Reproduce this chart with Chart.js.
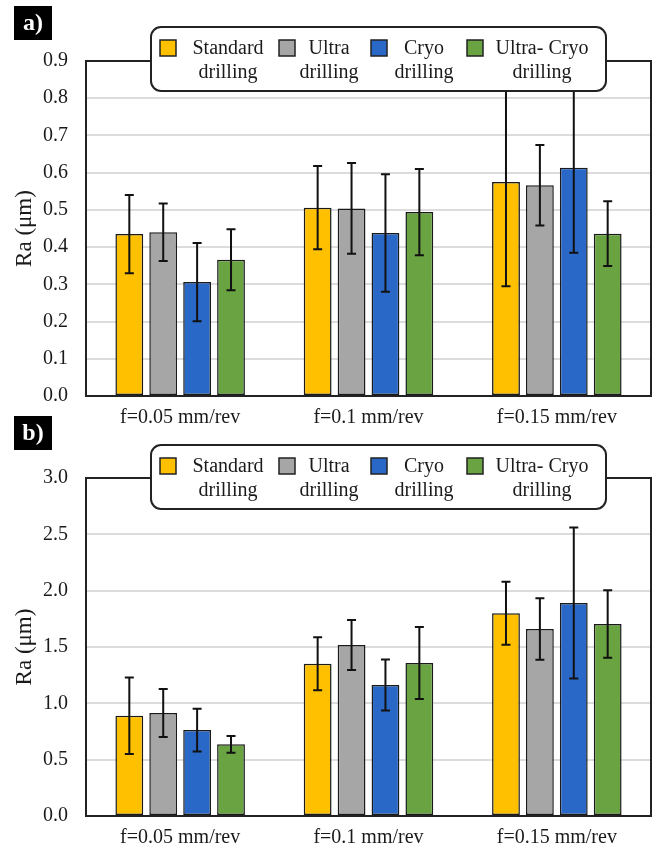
<!DOCTYPE html>
<html>
<head>
<meta charset="utf-8">
<script src="https://cdn.jsdelivr.net/npm/chart.js@4/dist/chart.umd.min.js"></script>
<style>
  html, body { margin: 0; padding: 0; background: #ffffff; }
  body { width: 660px; height: 850px; position: relative; overflow: hidden; }
  canvas { position: absolute; left: 0; }
  #ca { top: 0; }
  #cb { top: 410px; }
</style>
</head>
<body>
<canvas id="ca" width="660" height="430"></canvas>
<canvas id="cb" width="660" height="440"></canvas>
<script>
// ---------- DATA ----------
const categories = ["f=0.05 mm/rev", "f=0.1 mm/rev", "f=0.15 mm/rev"];
const seriesNames = ["Standard drilling", "Ultra drilling", "Cryo drilling", "Ultra- Cryo drilling"];

// Panel a) Ra (µm)
const aStandard  = [0.435, 0.506, 0.575];
const aUltra     = [0.440, 0.504, 0.566];
const aCryo      = [0.306, 0.438, 0.613];
const aUltraCryo = [0.366, 0.494, 0.436];
const aStandardErr  = [0.105, 0.112, 0.280];
const aUltraErr     = [0.077, 0.122, 0.108];
const aCryoErr      = [0.105, 0.158, 0.228];
const aUltraCryoErr = [0.082, 0.116, 0.087];

// Panel b) Ra (µm)
const bStandard  = [0.89, 1.352, 1.80];
const bUltra     = [0.914, 1.517, 1.66];
const bCryo      = [0.763, 1.162, 1.89];
const bUltraCryo = [0.636, 1.358, 1.704];
const bStandardErr  = [0.34, 0.235, 0.28];
const bUltraErr     = [0.213, 0.222, 0.273];
const bCryoErr      = [0.19, 0.226, 0.67];
const bUltraCryoErr = [0.075, 0.32, 0.30];

const aTickMax = 0.9, aTickStep = 0.1;
const bTickMax = 3.0, bTickStep = 0.5;

// ---------- STYLE ----------
const colors = ["#FFC000", "#A6A6A6", "#2A68C8", "#6AA342"];
const FONT = "'Liberation Serif', 'Times New Roman', serif";
const TEXT = "#1a1a1a";
const legendBoxX = [160, 279, 371, 467];
const legendTextCX = [228, 329, 424, 542];

function makeDatasets(vals, errs) {
  return vals.map((v, i) => ({
    label: seriesNames[i],
    data: v,
    errors: errs[i],
    backgroundColor: colors[i],
    borderColor: "#1a1a1a",
    borderWidth: 1.5,
    borderSkipped: false,
    categoryPercentage: 0.72,
    barPercentage: 0.82
  }));
}

const decorPlugin = {
  id: "decor",
  afterDatasetsDraw(chart) {
    const ctx = chart.ctx;
    const ys = chart.scales.y;
    ctx.save();
    ctx.strokeStyle = "#111";
    ctx.lineWidth = 2;
    chart.data.datasets.forEach((ds, di) => {
      const meta = chart.getDatasetMeta(di);
      meta.data.forEach((el, i) => {
        const v = ds.data[i], e = ds.errors[i];
        const yt = ys.getPixelForValue(v + e);
        const yb = ys.getPixelForValue(v - e);
        const x = el.x;
        ctx.beginPath();
        ctx.moveTo(x, yt); ctx.lineTo(x, yb);
        ctx.moveTo(x - 4.5, yt); ctx.lineTo(x + 4.5, yt);
        ctx.moveTo(x - 4.5, yb); ctx.lineTo(x + 4.5, yb);
        ctx.stroke();
      });
    });
    ctx.restore();
  },
  afterDraw(chart) {
    const ctx = chart.ctx;
    const a = chart.chartArea;
    const o = chart.options.plugins.decor;
    ctx.save();
    // frame
    ctx.strokeStyle = "#222";
    ctx.lineWidth = 2;
    ctx.strokeRect(a.left, a.top, a.right - a.left, a.bottom - a.top);
    // legend box
    const lt = o.legendTop, ll = 151, lr = 606, lb = lt + 64;
    ctx.beginPath();
    ctx.roundRect(ll, lt, lr - ll, lb - lt, 10);
    ctx.fillStyle = "#fff";
    ctx.fill();
    ctx.strokeStyle = "#222";
    ctx.lineWidth = 2;
    ctx.stroke();
    // legend items
    ctx.font = "20px " + FONT;
    ctx.textAlign = "center";
    ctx.textBaseline = "middle";
    chart.data.datasets.forEach((ds, i) => {
      const bx = legendBoxX[i];
      ctx.fillStyle = ds.backgroundColor;
      ctx.fillRect(bx, lt + 13, 16, 16);
      ctx.lineWidth = 1.5;
      ctx.strokeStyle = "#222";
      ctx.strokeRect(bx, lt + 13, 16, 16);
      const lbl = ds.label;
      const k = lbl.lastIndexOf(" ");
      ctx.fillStyle = TEXT;
      ctx.fillText(lbl.slice(0, k), legendTextCX[i], lt + 22);
      ctx.fillText(lbl.slice(k + 1), legendTextCX[i], lt + 46);
    });
    // panel label
    ctx.fillStyle = "#000";
    ctx.fillRect(14, 6, 38, 34);
    ctx.fillStyle = "#fff";
    ctx.font = "bold 24px " + FONT;
    ctx.textAlign = "center";
    ctx.textBaseline = "middle";
    ctx.fillText(o.panel, 33, 24);
    ctx.restore();
  }
};

function makeChart(id, vals, errs, max, step, padTop, xHeight, legendTop, panel) {
  return new Chart(document.getElementById(id), {
    type: "bar",
    data: { labels: categories, datasets: makeDatasets(vals, errs) },
    plugins: [decorPlugin],
    options: {
      responsive: false,
      animation: false,
      events: [],
      layout: { padding: { top: padTop, right: 9, left: 0, bottom: 0 } },
      plugins: {
        legend: { display: false },
        tooltip: { enabled: false },
        decor: { legendTop: legendTop, panel: panel }
      },
      scales: {
        x: {
          grid: { display: false, drawTicks: false },
          border: { display: false },
          ticks: { font: { family: FONT, size: 20 }, color: TEXT, padding: 10, maxRotation: 0 },
          afterFit(s) { s.height = xHeight; }
        },
        y: {
          min: 0, max: max,
          grid: { color: "#dcdcdc", lineWidth: 2, drawTicks: false },
          border: { display: false },
          ticks: {
            stepSize: step,
            font: { family: FONT, size: 20 }, color: TEXT, padding: 18,
            callback: (v) => Number(v).toFixed(1)
          },
          title: {
            display: true, text: "Ra (μm)",
            font: { family: FONT, size: 23 }, color: TEXT,
            padding: { top: 11, bottom: 0 }
          },
          afterFit(s) { s.width = 86; }
        }
      }
    }
  });
}

makeChart("ca",
  [aStandard, aUltra, aCryo, aUltraCryo],
  [aStandardErr, aUltraErr, aCryoErr, aUltraCryoErr],
  aTickMax, aTickStep, 61, 34, 27, "a)");

makeChart("cb",
  [bStandard, bUltra, bCryo, bUltraCryo],
  [bStandardErr, bUltraErr, bCryoErr, bUltraCryoErr],
  bTickMax, bTickStep, 68, 34, 35, "b)");
</script>
</body>
</html>
